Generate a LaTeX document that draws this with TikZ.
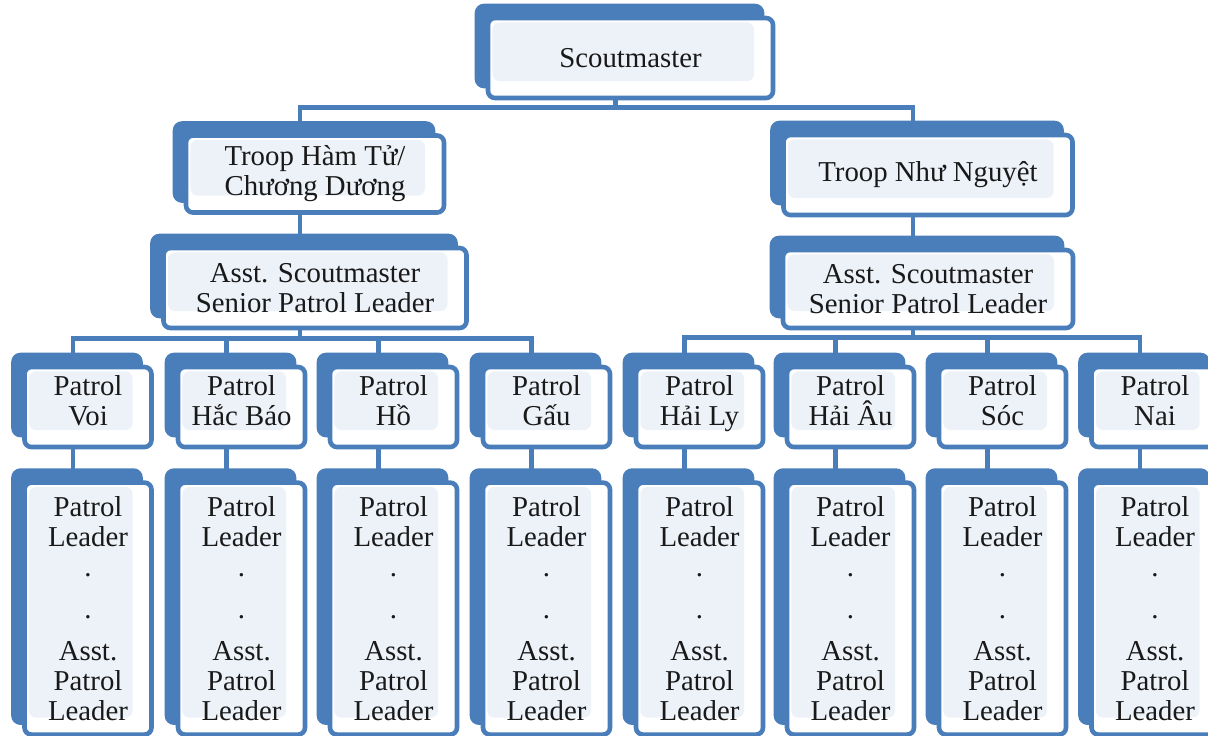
\documentclass[tikz,border=0pt]{standalone}
\usepackage{fontspec}
\setmainfont{Liberation Serif}
\usetikzlibrary{positioning}
\definecolor{boxblue}{RGB}{74,126,187}
\definecolor{innerblue}{RGB}{237,242,249}
\definecolor{textgray}{RGB}{25,25,25}

\begin{document}
\begin{tikzpicture}
	[x=0.5pt,y=-0.5pt,
	orgbox/.style={rectangle,rounded corners=3.5pt,draw=boxblue,line width=2.3pt,fill=white,
		align=center,text=textgray,inner sep=0pt,font=\fontsize{14.4}{15}\selectfont,
		preaction={draw=boxblue,fill=boxblue,transform canvas={shift={(-5.5pt,6pt)}}},
		path picture={\fill[innerblue] ([shift={(2.2pt,-2.2pt)}]path picture bounding box.north west)
			rectangle ([shift={(-9.5pt,8.5pt)}]path picture bounding box.south east);}},
	patrolbox/.style={orgbox,minimum width=63.5pt,minimum height=40pt,text height=25pt,text depth=7pt},
	leaderbox/.style={orgbox,minimum width=63.5pt,minimum height=126pt},
	link/.style={draw=boxblue,line width=2.4pt}]
	\useasboundingbox (0,0) rectangle (1208,735);
	% top of the troop
	\node at (630.5,58) [orgbox,minimum width=142.5pt,minimum height=40pt] (scoutmaster) {Scoutmaster};
	\node at (315,174) [orgbox,minimum width=129pt,minimum height=38.5pt] (troop1) {Troop Hàm Tử/\\Chương Dương};
	\node at (928,175) [orgbox,minimum width=144.5pt,minimum height=40pt] (troop2) {Troop Như Nguyệt};
	\node at (315,288) [orgbox,minimum width=151.5pt,minimum height=40pt] (asst1) {Asst. Scoutmaster\\Senior Patrol Leader};
	\node at (928,289) [orgbox,minimum width=145pt,minimum height=39pt] (asst2) {Asst. Scoutmaster\\Senior Patrol Leader};
	% patrols
	\node at (88,407) [patrolbox] (patrol1) {Patrol\\Voi};
	\node at (241.5,407) [patrolbox] (patrol2) {Patrol\\Hắc Báo};
	\node at (393.5,407) [patrolbox] (patrol3) {Patrol\\Hồ};
	\node at (546.5,407) [patrolbox] (patrol4) {Patrol\\Gấu};
	\node at (699.5,407) [patrolbox] (patrol5) {Patrol\\Hải Ly};
	\node at (850.5,407) [patrolbox] (patrol6) {Patrol\\Hải Âu};
	\node at (1002.5,407) [patrolbox] (patrol7) {Patrol\\Sóc};
	\node at (1155,407) [patrolbox] (patrol8) {Patrol\\Nai};
	% leaders of each patrol
	\node [leaderbox,below=15.5pt of patrol1] (leader1) {Patrol\\Leader\\.\\[6pt].\\[6pt]Asst.\\Patrol\\Leader};
	\node [leaderbox,below=15.5pt of patrol2] (leader2) {Patrol\\Leader\\.\\[6pt].\\[6pt]Asst.\\Patrol\\Leader};
	\node [leaderbox,below=15.5pt of patrol3] (leader3) {Patrol\\Leader\\.\\[6pt].\\[6pt]Asst.\\Patrol\\Leader};
	\node [leaderbox,below=15.5pt of patrol4] (leader4) {Patrol\\Leader\\.\\[6pt].\\[6pt]Asst.\\Patrol\\Leader};
	\node [leaderbox,below=15.5pt of patrol5] (leader5) {Patrol\\Leader\\.\\[6pt].\\[6pt]Asst.\\Patrol\\Leader};
	\node [leaderbox,below=15.5pt of patrol6] (leader6) {Patrol\\Leader\\.\\[6pt].\\[6pt]Asst.\\Patrol\\Leader};
	\node [leaderbox,below=15.5pt of patrol7] (leader7) {Patrol\\Leader\\.\\[6pt].\\[6pt]Asst.\\Patrol\\Leader};
	\node [leaderbox,below=15.5pt of patrol8] (leader8) {Patrol\\Leader\\.\\[6pt].\\[6pt]Asst.\\Patrol\\Leader};
	% connectors
	\draw [link] ([xshift=-7.5pt]scoutmaster.south) -- ++(0,-3.5pt) coordinate (bar0);
	\draw [link] (bar0) -| ([xshift=-7.5pt]troop1.north);
	\draw [link] (bar0) -| ([xshift=-7.5pt]troop2.north);
	\draw [link] ([xshift=-7.5pt]troop1.south) -- ([xshift=-7.5pt]asst1.north);
	\draw [link] ([xshift=-7.5pt]troop2.south) -- ([xshift=-7.5pt]asst2.north);
	\draw [link] ([xshift=-7.5pt]asst1.south) -- ++(0,-4pt) coordinate (bar1);
	\draw [link] ([xshift=-7.5pt]asst2.south) -- ++(0,-3.5pt) coordinate (bar2);
	\draw [link] (bar1) -| ([xshift=-7.5pt]patrol1.north);
	\draw [link] (bar1) -| ([xshift=-7.5pt]patrol2.north);
	\draw [link] (bar1) -| ([xshift=-7.5pt]patrol3.north);
	\draw [link] (bar1) -| ([xshift=-7.5pt]patrol4.north);
	\draw [link] (bar2) -| ([xshift=-7.5pt]patrol5.north);
	\draw [link] (bar2) -| ([xshift=-7.5pt]patrol6.north);
	\draw [link] (bar2) -| ([xshift=-7.5pt]patrol7.north);
	\draw [link] (bar2) -| ([xshift=-7.5pt]patrol8.north);
	\draw [link] ([xshift=-7.5pt]patrol1.south) -- ([xshift=-7.5pt]leader1.north);
	\draw [link] ([xshift=-7.5pt]patrol2.south) -- ([xshift=-7.5pt]leader2.north);
	\draw [link] ([xshift=-7.5pt]patrol3.south) -- ([xshift=-7.5pt]leader3.north);
	\draw [link] ([xshift=-7.5pt]patrol4.south) -- ([xshift=-7.5pt]leader4.north);
	\draw [link] ([xshift=-7.5pt]patrol5.south) -- ([xshift=-7.5pt]leader5.north);
	\draw [link] ([xshift=-7.5pt]patrol6.south) -- ([xshift=-7.5pt]leader6.north);
	\draw [link] ([xshift=-7.5pt]patrol7.south) -- ([xshift=-7.5pt]leader7.north);
	\draw [link] ([xshift=-7.5pt]patrol8.south) -- ([xshift=-7.5pt]leader8.north);
\end{tikzpicture}
\end{document}
